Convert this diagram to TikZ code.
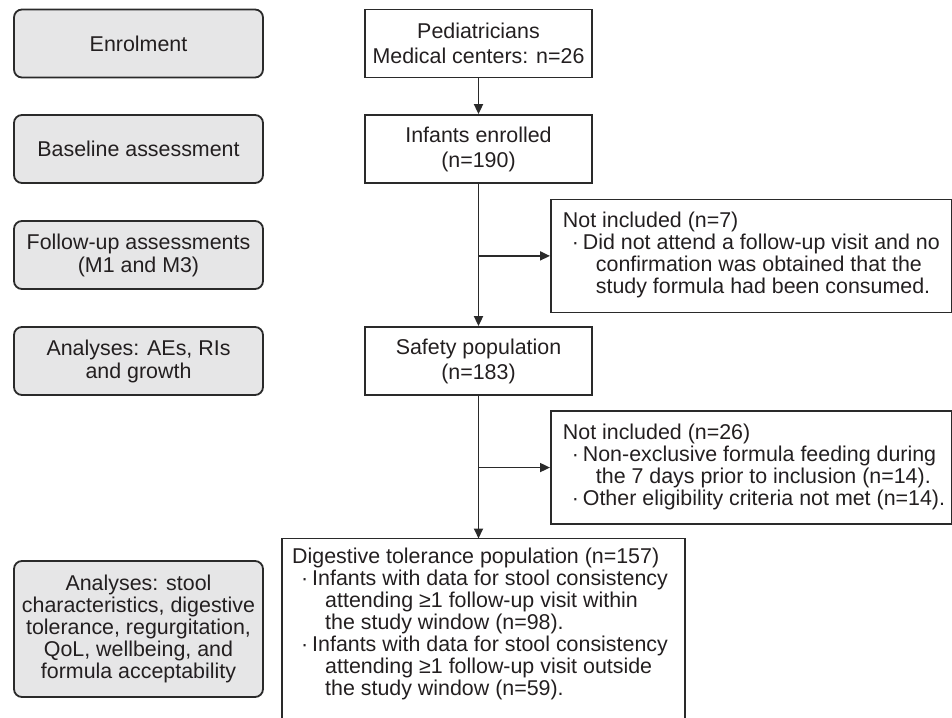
\documentclass[tikz,border=0pt]{standalone}
\usepackage{fontspec}
\setmainfont{Liberation Sans}
\usetikzlibrary{arrows.meta}
\definecolor{lc}{HTML}{2A2A2A}
\definecolor{fillg}{HTML}{E6E6E7}
\definecolor{tc}{HTML}{231F20}
\newcommand\mybul{\makebox[20pt][l]{\hspace*{9pt}·}}
\newcommand\myind{\hspace*{33pt}}
\begin{document}
\begin{tikzpicture}[x=1pt,y=-1pt,
  stage/.style={draw=lc, fill=fillg, rounded corners=8pt, line width=1.8pt, minimum width=249pt, inner sep=0pt, align=center, text=tc},
  flow/.style={draw=lc, line width=1.8pt, minimum width=227pt, minimum height=68pt, inner sep=0pt, align=center, text=tc, font=\fontsize{21.4pt}{25pt}\selectfont},
  side/.style={draw=lc, line width=1.8pt, inner sep=0pt, minimum height=113pt, anchor=north west, text=tc, font=\fontsize{21.4pt}{21.7pt}\selectfont},
  arr/.style={draw=lc, line width=1.8pt, -{Triangle[length=10pt,width=9pt]}},
  font=\fontsize{21.4pt}{23pt}\selectfont]
\useasboundingbox (0,0) rectangle (952,717);
% stage boxes
\node[stage, minimum height=68pt] (enrol) at (138.5,43.5) {Enrolment};
\node[stage, minimum height=68pt] (base) at (138.5,149) {Baseline assessment};
\node[stage, minimum height=68pt] (follow) at (138.5,255) {Follow-up assessments\\(M1 and M3)};
\node[stage, minimum height=68pt] (anal) at (138.5,361) {Analyses: AEs, RIs\\and growth};
\node[stage, minimum height=136pt, font=\fontsize{21.4pt}{22pt}\selectfont] (anal2) at (138.5,629) {Analyses: stool\\characteristics, digestive\\tolerance, regurgitation,\\QoL, wellbeing, and\\formula acceptability};
% flow boxes
\node[flow] (ped) at (478.5,43.5) {Pediatricians\\Medical centers: n=26};
\node[flow] (inf) at (478.5,149) {Infants enrolled\\(n=190)};
\node[flow] (safe) at (478.5,361) {Safety population\\(n=183)};
\node[side] (ni7) at (550,198.5) {\makebox[401pt][l]{\hspace*{12pt}\begin{tabular}{@{}l@{}}Not included (n=7)\\
\mybul Did not attend a follow-up visit and no\\
\myind confirmation was obtained that the\\
\myind study formula had been consumed.\end{tabular}}};
\node[side, minimum height=113.3pt] (ni26) at (550,410) {\makebox[401pt][l]{\hspace*{12pt}\begin{tabular}{@{}l@{}}Not included (n=26)\\
\mybul Non-exclusive formula feeding during\\
\myind the 7 days prior to inclusion (n=14).\\
\mybul Other eligibility criteria not met (n=14).\end{tabular}}};
\node[anchor=north west, inner xsep=0pt, inner ysep=9.5pt, text=tc, font=\fontsize{21.4pt}{21.3pt}\selectfont] (dig) at (282,538.5) {\makebox[403pt][l]{\hspace*{10pt}\begin{tabular}{@{}l@{}}Digestive tolerance population (n=157)\\
\mybul Infants with data for stool consistency\\
\myind attending ≥1 follow-up visit within\\
\myind the study window (n=98).\\
\mybul Infants with data for stool consistency\\
\myind attending ≥1 follow-up visit outside\\
\myind the study window (n=59).\end{tabular}}};
\coordinate (digbr) at (685,725);
\draw[draw=lc, line width=1.8pt] (dig.north west) rectangle (digbr);
% connectors
\draw[arr] (ped) -- (inf);
\draw[arr] (inf) -- (safe);
\draw[arr] (inf.south |- ni7.west) -- (ni7.west);
\draw[arr] (safe.south) -- (safe.south |- dig.north);
\draw[arr] (safe.south |- ni26.west) -- (ni26.west);
\end{tikzpicture}
\end{document}
